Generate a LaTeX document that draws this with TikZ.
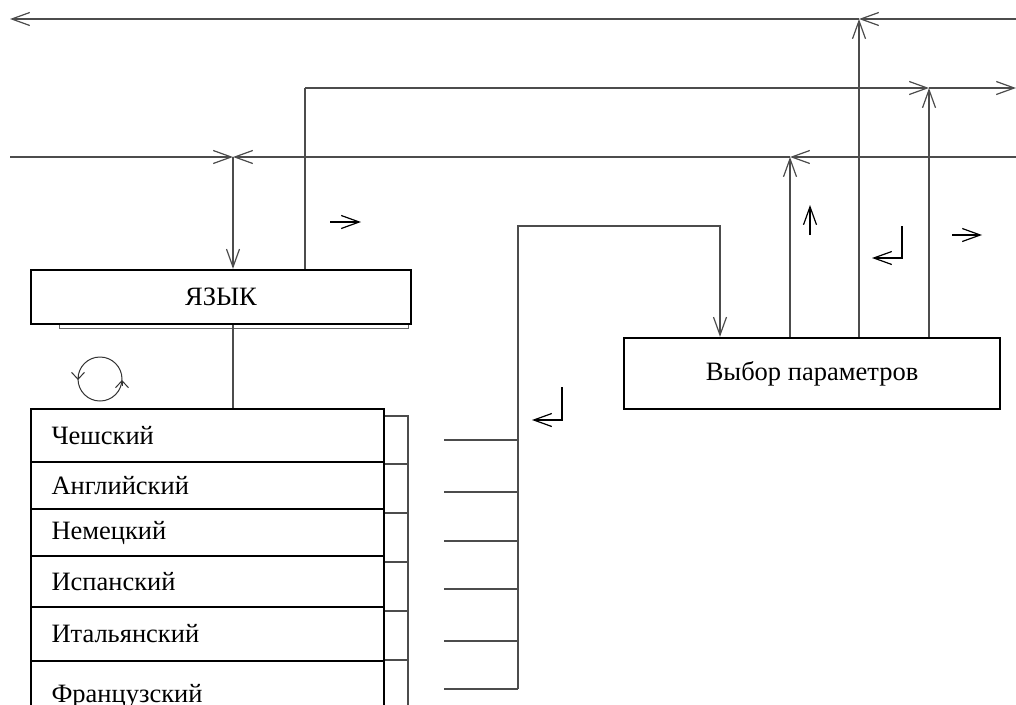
\documentclass[tikz,border=0pt]{standalone}
\usepackage{fontspec}
\setmainfont{Liberation Serif}
\usetikzlibrary{arrows.meta}
\tikzset{
  >={Straight Barb[length=18pt,width=13pt]},
  conn/.style={draw=black!70, line width=1.2pt},
  freemark/.style={draw=black, line width=1.2pt},
  boxnode/.style={draw=black, line width=2.3pt, rectangle, inner sep=0pt, font=\fontsize{26.5}{30}\selectfont},
  rownode/.style={draw=black, line width=2.3pt, rectangle, inner sep=0pt, minimum width=353pt, text width=312pt, align=left, font=\fontsize{26.5}{30}\selectfont},
}
\begin{document}
\begin{tikzpicture}[x=1pt,y=-1pt]
\useasboundingbox (0,0) rectangle (1016,704);
\clip (0,0) rectangle (1016,704);
% boxes
\draw[draw=black!60, line width=0.8pt] (59,324) rectangle (408,328);
\node[boxnode, minimum width=380pt, minimum height=54pt] (lang) at (221,297) {ЯЗЫК};
\node[boxnode, minimum width=376pt, minimum height=71pt] (sel) at (812,373.5) {Выбор параметров};
% list rows
\node[rownode, minimum height=53pt] (r1) at (207.5,435.5) {Чешский};
\node[rownode, minimum height=47pt] (r2) at (207.5,485.5) {Английский};
\node[rownode, minimum height=47pt] (r3) at (207.5,532.5) {Немецкий};
\node[rownode, minimum height=51pt] (r4) at (207.5,581.5) {Испанский};
\node[rownode, minimum height=54pt] (r5) at (207.5,634) {Итальянский};
\node[rownode, minimum height=70pt] (r6) at (207.5,696) {Французский};
% coordinates
\coordinate (tl) at (10,19);
\coordinate (tr) at (1016,19);
\coordinate (ml) at (10,157);
\coordinate (mr) at (1016,157);
\coordinate (sr) at (1016,88);
\coordinate (x1) at (233,157);
\coordinate (a1) at (305,88);
\coordinate (p859) at (859,19);
\coordinate (p929) at (929,88);
\coordinate (p790) at (790,157);
\coordinate (bus) at (518,226);
\coordinate (busb) at (518,689);
\coordinate (busr) at (720,226);
% top line
\draw[conn,->] (tr) -- (p859);
\draw[conn,->] (p859) -- (tl);
\draw[conn,->] (sel.north -| p859) -- (p859);
% second line
\draw[conn] (lang.north -| a1) -- (a1);
\draw[conn,->] (a1) -- (p929);
\draw[conn,->] (p929) -- (sr);
\draw[conn,->] (sel.north -| p929) -- (p929);
% third line
\draw[conn,->] (mr) -- (p790);
\draw[conn,->] (p790) -- (x1);
\draw[conn,->] (ml) -- (x1);
\draw[conn,->] (sel.north -| p790) -- (p790);
\draw[conn,->] (x1) -- (lang.north -| x1);
% lang to list
\draw[conn] (lang.south -| x1) -- (r1.north -| x1);
% brackets
\draw[conn] (r1.east |- 0,416) -- (408,416) -- (408,720);
\foreach \y in {464,513,562,611,660}{\draw[conn] (r1.east |- 0,\y) -- (408,\y);}
% bus lines
\foreach \y in {440,492,541,589,641}{\draw[conn] (444,\y) -- (518,\y);}
\draw[conn] (444,689) -- (busb);
\draw[conn,->] (busb) -- (bus) -- (busr) -- (sel.north -| busr);
% cycle mark
\draw[draw=black!80, line width=1pt] (100,379) circle[radius=22];
\draw[draw=black!80, line width=1pt, -{Straight Barb[length=7pt,width=13pt]}] (78,374) -- (78,380);
\draw[draw=black!80, line width=1pt, -{Straight Barb[length=7pt,width=13pt]}] (122,386) -- (122,380);
% free marks
\draw[freemark,->] (330,222) -- (361,222);
\draw[freemark,->] (810,235) -- (810,205);
\draw[freemark,->] (902,226) -- (902,258) -- (872,258);
\draw[freemark,->] (952,235) -- (982,235);
\draw[freemark,->] (562,387) -- (562,420) -- (532,420);
\end{tikzpicture}
\end{document}
